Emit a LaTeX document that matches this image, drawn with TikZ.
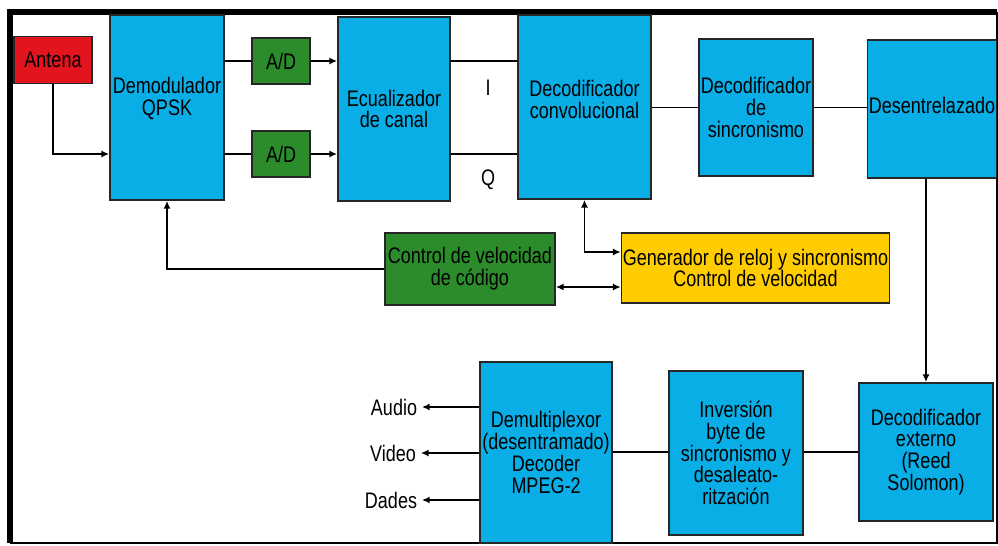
\documentclass[tikz,border=0pt]{standalone}
\usepackage{fontspec}
\setmainfont{Liberation Sans}[FakeStretch=0.8]
\usetikzlibrary{arrows.meta}
\definecolor{bloc}{RGB}{10,174,230}
\definecolor{verd}{RGB}{44,140,44}
\definecolor{vermell}{RGB}{226,20,30}
\definecolor{groc}{RGB}{255,204,0}

\begin{document}
\begin{tikzpicture}[x=0.025cm,y=-0.025cm,>={Latex[length=5.5pt,width=5pt]},
	caixa/.style={draw=black!85,line width=1.2pt,fill=bloc,align=center,inner sep=1pt,
		font=\fontsize{16}{15.5}\selectfont},
	ad/.style={caixa,fill=verd},
	fletxa/.style={->,line width=1.2pt},
	linia/.style={line width=1.2pt},
	etiq/.style={font=\fontsize{16}{15.5}\selectfont}]
	\useasboundingbox (0,0) rectangle (998,545);
	% marc
	\draw[line width=4.2pt] (10,543) -- (10,12) -- (997,12);
	\draw[line width=1.4pt] (997,12) -- (997,543) -- (10,543);
	% primera fila
	\node[caixa,fill=vermell,minimum width=78*0.025cm,minimum height=47*0.025cm] (antena) at (53,60) {Antena};
	\node[caixa,minimum width=114*0.025cm,minimum height=185*0.025cm] (demod) at (167,107.5) {Demodulador\\QPSK\\\mbox{}};
	\node[ad,minimum width=58*0.025cm,minimum height=46*0.025cm] (adI) at (281,61) {A/D};
	\node[ad,minimum width=58*0.025cm,minimum height=46*0.025cm] (adQ) at (281,154) {A/D};
	\node[caixa,minimum width=112*0.025cm,minimum height=184*0.025cm] (equal) at (394,109) {Ecualizador\\de canal};
	\node[caixa,minimum width=133*0.025cm,minimum height=184*0.025cm] (conv) at (584.5,107) {Decodificador\\convolucional\\[-5pt]\mbox{}};
	\node[caixa,minimum width=114*0.025cm,minimum height=137*0.025cm] (sinc) at (756,107.5) {Decodificador\\de\\sincronismo};
	\node[caixa,minimum width=128*0.025cm,minimum height=138*0.025cm] (desent) at (932,109) {\raisebox{5pt}{Desentrelazado}};
	% segona fila
	\node[ad,minimum width=170*0.025cm,minimum height=72*0.025cm] (ctrl) at (470,269) {Control de velocidad\\de código};
	\node[caixa,fill=groc,minimum width=267*0.025cm,minimum height=70*0.025cm] (gen) at (755.5,268) {Generador de reloj y sincronismo\\Control de velocidad};
	% tercera fila
	\node[caixa,minimum width=132*0.025cm,minimum height=181*0.025cm] (demux) at (546,452.5) {Demultiplexor\\(desentramado)\\Decoder\\MPEG-2};
	\node[caixa,minimum width=134*0.025cm,minimum height=164*0.025cm] (inv) at (736,453) {Inversión\\byte de\\sincronismo y\\desaleato-\\ritzación};
	\node[caixa,minimum width=134*0.025cm,minimum height=138*0.025cm] (ext) at (926,452) {Decodificador\\externo\\(Reed\\Solomon)};
	% sortides
	\node[etiq] (audio) at (394,407) {Audio};
	\node[etiq] (video) at (393,453) {Video};
	\node[etiq] (dades) at (391,500) {Dades};
	\node[etiq] (senyalI) at (488,88) {I};
	\node[etiq] (senyalQ) at (488,180) {Q};
	\coordinate (ctrlout) at ([yshift=-18*0.025cm]ctrl.east);
	\coordinate (genin) at ([yshift=16*0.025cm]gen.west);
	% connexions
	\draw[fletxa] (antena.south) |- (demod.west |- adQ);
	\draw[linia] (demod.east |- adI) -- (adI.west);
	\draw[linia] (demod.east |- adQ) -- (adQ.west);
	\draw[fletxa] (adI.east) -- (equal.west |- adI);
	\draw[fletxa] (adQ.east) -- (equal.west |- adQ);
	\draw[linia] (equal.east |- adI) -- (conv.west |- adI);
	\draw[linia] (equal.east |- adQ) -- (conv.west |- adQ);
	\draw[linia] (conv.east |- sinc) -- (sinc.west);
	\draw[linia] (sinc.east) -- (desent.west |- sinc);
	\draw[fletxa] (desent.south -| ext.north) -- (ext.north);
	\draw[linia] (ext.west) -- (inv.east |- ext);
	\draw[linia] (inv.west |- ext) -- (demux.east |- ext);
	\draw[fletxa] (ctrl.west) -| (demod.south);
	\draw[fletxa,<->] (conv.south) |- (genin);
	\draw[fletxa,<->] (ctrlout) -- (gen.west |- ctrlout);
	\draw[fletxa] (demux.west |- audio) -- (audio.east);
	\draw[fletxa] (demux.west |- video) -- (video.east);
	\draw[fletxa] (demux.west |- dades) -- (dades.east);
\end{tikzpicture}
\end{document}
